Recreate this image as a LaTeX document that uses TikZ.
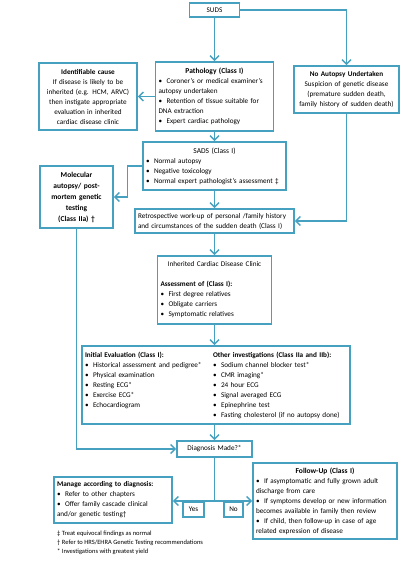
\documentclass[tikz,border=0pt]{standalone}
\usepackage{fontspec}
\setmainfont{Carlito}
\usetikzlibrary{arrows.meta}

\definecolor{flowblue}{RGB}{70,160,192}
\newcommand{\boxtitle}[1]{{\centering\fontsize{7.5}{10}\selectfont\textbf{#1}\par}}
\newcommand{\bitem}{\par\hangindent=8pt\hangafter=1\noindent\hbox to 8pt{\textbullet\hfil}}

\begin{document}
\begin{tikzpicture}[x=1pt, y=-1pt,
  box/.style={draw=flowblue, line width=1.6pt, fill=white, inner sep=3pt, font=\fontsize{7.2}{10}\selectfont},
  cbox/.style={box, align=center},
  lbox/.style={box, align=left},
  arr/.style={-{Straight Barb[length=4.5pt,width=9pt]}, flowblue, line width=1.4pt},
  line/.style={flowblue, line width=1.4pt},
  note/.style={font=\fontsize{6.5}{9}\selectfont, align=left, anchor=north west, inner sep=0pt},
]
\useasboundingbox (0,0) rectangle (420,562);

% --- top row ---
\node[cbox, text width=44pt, minimum height=14pt] (suds) at (214.5,10) {SUDS};

\node[cbox, text width=92pt, minimum height=67pt] (ident) at (88,96.5) {%
  \textbf{Identifiable cause}\\ If disease is likely to be\\ inherited (e.g. HCM, ARVC)\\
  then instigate appropriate\\ evaluation in inherited\\ cardiac disease clinic};

\node[lbox, text width=112pt, minimum height=69pt] (path) at (214.5,96.5) {%
  \boxtitle{Pathology (Class I)}
  \bitem Coroner's or medical examiner's\\ autopsy undertaken
  \bitem Retention of tissue suitable for\\ DNA extraction
  \bitem Expert cardiac pathology};

\node[cbox, text width=99pt, minimum height=47pt] (noaut) at (346.5,89.5) {%
  \textbf{No Autopsy Undertaken}\\ Suspicion of genetic disease\\
  (premature sudden death,\\ family history of sudden death)};

% --- autopsy results ---
\node[lbox, text width=137pt, minimum height=48pt] (sads) at (214.5,166) {%
  {\centering\fontsize{7.5}{10}\selectfont SADS (Class I)\par}
  \bitem Normal autopsy
  \bitem Negative toxicology
  \bitem Normal expert pathologist's assessment ‡};

\node[cbox, text width=67pt, minimum height=62pt, font=\fontsize{7.5}{11}\selectfont\bfseries] (molec) at (76.5,197) {%
  Molecular\\ autopsy/ post-\\ mortem genetic\\ testing\\ (Class IIa) †};

\node[lbox, text width=153pt, minimum height=24pt] (retro) at (214.5,221) {%
  Retrospective work-up of personal /family history\\ and circumstances of the sudden death (Class I)};

% --- clinic ---
\node[lbox, text width=108pt, minimum height=68pt] (icdc) at (214.5,290) {%
  {\centering Inherited Cardiac Disease Clinic\par}
  \vspace{10pt}
  \textbf{Assessment of (Class I):}
  \bitem First degree relatives
  \bitem Obligate carriers
  \bitem Symptomatic relatives};

\node[lbox, text width=262pt, minimum height=78pt] (eval) at (216,385) {%
  \begin{minipage}[t]{128pt}\raggedright
    \textbf{Initial Evaluation (Class I):}
    \bitem Historical assessment and pedigree*
    \bitem Physical examination
    \bitem Resting ECG*
    \bitem Exercise ECG*
    \bitem Echocardiogram
  \end{minipage}%
  \begin{minipage}[t]{134pt}\raggedright
    \textbf{Other investigations (Class IIa and IIb):}
    \bitem Sodium channel blocker test*
    \bitem CMR imaging*
    \bitem 24 hour ECG
    \bitem Signal averaged ECG
    \bitem Epinephrine test
    \bitem Fasting cholesterol (if no autopsy done)
  \end{minipage}};

% --- outcome ---
\node[cbox, text width=69pt, minimum height=16pt] (diag) at (214.5,449) {Diagnosis Made?*};

\node[lbox, text width=112pt, minimum height=46pt] (manage) at (113,500) {%
  \textbf{Manage according to diagnosis:}
  \bitem Refer to other chapters
  \bitem Offer family cascade clinical\\ and/or genetic testing†};

\node[cbox, text width=15pt, minimum height=15pt] (yes) at (193.5,509.5) {Yes};
\node[cbox, text width=13pt, minimum height=15pt] (no) at (233.5,509.5) {No};

\node[lbox, text width=138pt, minimum height=76pt] (follow) at (325,501) {%
  \boxtitle{Follow-Up (Class I)}
  \bitem If asymptomatic and fully grown adult\\ discharge from care
  \bitem If symptoms develop or new information\\ becomes available in family then review
  \bitem If child, then follow-up in case of age\\ related expression of disease};

% Footnotes
\node[note] (notes) at (57,531) {%
  ‡ Treat equivocal findings as normal\\
  † Refer to HRS/EHRA Genetic Testing recommendations\\
  * Investigations with greatest yield};

% --- connectors ---
\draw[arr] (suds.south) -- (path.north);
\draw[arr] (suds.east) -| (noaut.north);
\draw[arr] (path.west) -- (ident.east);
\draw[arr] (path.south) -- (sads.north);
\draw[arr] (sads.west) -- +(-15,0) |- (molec.east);
\draw[arr] (sads.south) -- (retro.north);
\draw[arr] (noaut.south) |- (retro.east);
\draw[arr] (retro.south) -- (icdc.north);
\draw[arr] (icdc.south) -- (icdc.south |- eval.north);
\draw[arr] (eval.south -| diag.north) -- (diag.north);
\draw[arr] (molec.south) |- (diag.west);
\draw[line] (diag.south) -- (diag.south |- 0,501) coordinate (split);
\draw[arr] (split) -- (split -| manage.east);
\draw[arr] (split) -- (split -| follow.west);

\end{tikzpicture}
\end{document}
